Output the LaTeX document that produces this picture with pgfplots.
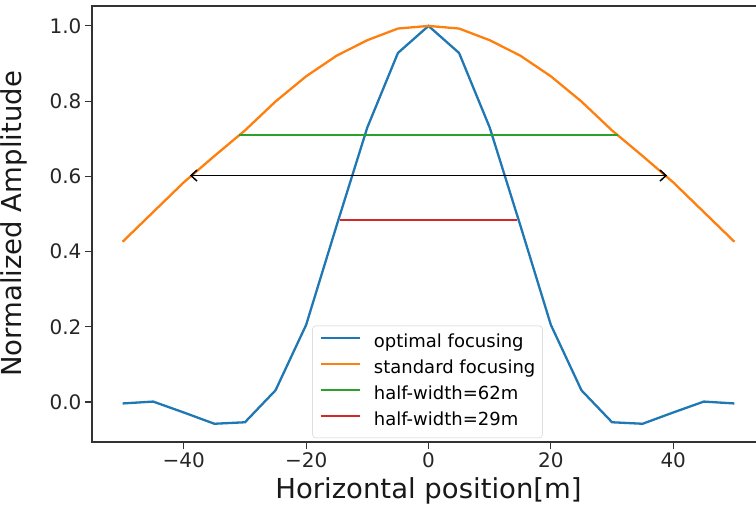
\documentclass[border=0pt]{standalone}
\usepackage{pgfplots}
\pgfplotsset{compat=1.18}
\usetikzlibrary{arrows.meta}
\usepackage{fontspec}
\setmainfont{DejaVu Sans}

\definecolor{tabblue}{HTML}{1F77B4}
\definecolor{taborange}{HTML}{FF7F0E}
\definecolor{tabgreen}{HTML}{2CA02C}
\definecolor{tabred}{HTML}{D62728}

% beam profiles sampled every 5 m
\pgfplotstableread{
x     optimal  standard
-50  -0.004    0.426
-45   0.001    0.505
-40  -0.028    0.584
-35  -0.058    0.654
-30  -0.054    0.722
-25   0.031    0.799
-20   0.205    0.866
-15   0.470    0.921
-10   0.730    0.962
-5    0.928    0.993
0     1.000    1.000
5     0.928    0.993
10    0.730    0.962
15    0.470    0.921
20    0.205    0.866
25    0.031    0.799
30   -0.054    0.722
35   -0.058    0.654
40   -0.028    0.584
45    0.001    0.505
50   -0.004    0.426
}\profiles

\begin{document}
\begin{tikzpicture}
\useasboundingbox (-92pt,-75.3pt) rectangle (664pt,442pt);
\clip (-92pt,-75.3pt) rectangle (664pt,442pt);
\begin{axis}[
  at={(0pt,0pt)}, anchor=south west,
  scale only axis,
  width=673pt, height=436.2pt,
  xmin=-55, xmax=55, ymin=-0.1065, ymax=1.0535,
  axis line style={black!80, line width=1.3pt},
  tick align=outside, xtick pos=left, ytick pos=left,
  major tick length=7pt,
  tick style={black!80, line width=1.1pt},
  xtick={-40,-20,0,20,40},
  xticklabels={−40,−20,0,20,40},
  ytick={0,0.2,0.4,0.6,0.8,1.0},
  yticklabels={0.0,0.2,0.4,0.6,0.8,1.0},
  ticklabel style={font=\fontsize{20}{20}\selectfont, text=black!85},
  xlabel={Horizontal position[m]},
  ylabel={Normalized Amplitude},
  label style={font=\fontsize{27.5}{27.5}\selectfont, text=black!90},
  xlabel style={at={(axis description cs:0.5,-0.113)}, anchor=center},
  ylabel style={at={(axis description cs:-0.116,0.5)}, anchor=center},
  legend style={
    at={(axis description cs:0.4985,0.009)}, anchor=south,
    draw=black!20, fill=white, rounded corners=3pt,
    font=\fontsize{18}{18}\selectfont,
    inner xsep=7pt, inner ysep=8pt,
    nodes={inner sep=0pt, text height=13.5pt, text depth=4.5pt},
    row sep=8pt, column sep=13pt,
  },
  legend cell align=left,
  legend image code/.code={\draw[#1] (0pt,5pt) -- (39pt,5pt);},
]
\addplot[tabblue, line width=2.3pt] table[x=x, y=optimal] {\profiles};
\addlegendentry{optimal focusing}
\addplot[taborange, line width=2.3pt] table[x=x, y=standard] {\profiles};
\addlegendentry{standard focusing}
\addplot[tabgreen, line width=2.3pt] coordinates {(-31,0.71) (31,0.71)};
\addlegendentry{half-width=62m}
\addplot[tabred, line width=2.3pt] coordinates {(-14.5,0.483) (14.5,0.483)};
\addlegendentry{half-width=29m}
\addplot[black, line width=1.5pt, {Straight Barb[length=6pt,width=11pt]}-{Straight Barb[length=6pt,width=11pt]}, forget plot]
  coordinates {(-39,0.602) (39,0.602)};
\end{axis}
% upper frame edge of the plotting area
\fill[black!80] (-0.65pt,435.4pt) rectangle (673pt,437.4pt);
\end{tikzpicture}
\end{document}
